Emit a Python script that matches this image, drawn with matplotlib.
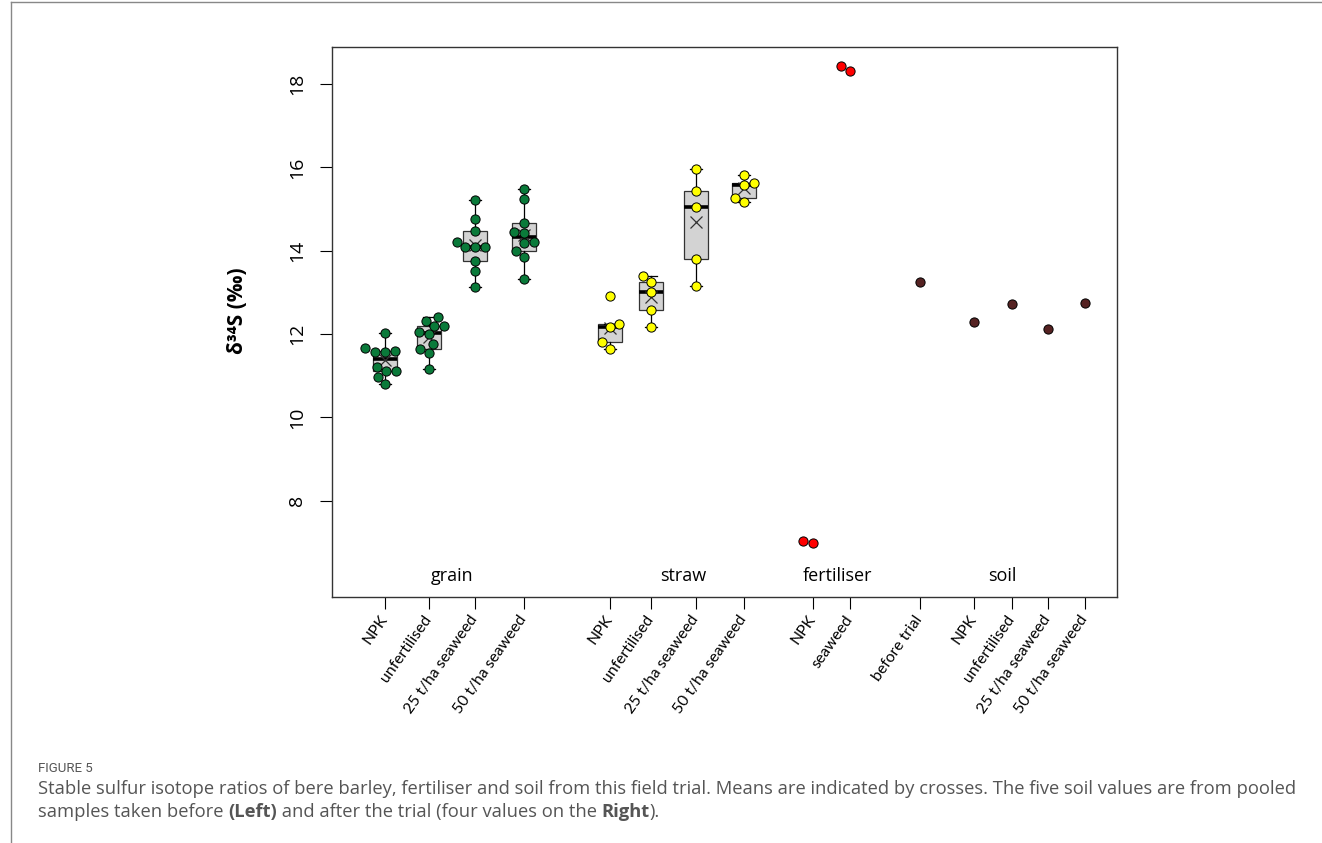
import numpy as np
import matplotlib.pyplot as plt
from matplotlib.lines import Line2D

plt.rcParams['font.family'] = ['Open Sans', 'DejaVu Sans']

# delta34S values (per mil)
grain_npk = [12.02, 11.66, 11.60, 11.58, 11.58, 11.22, 11.12, 11.12, 10.98, 10.81]
grain_unfert = [12.42, 12.32, 12.20, 12.20, 12.06, 12.00, 11.76, 11.64, 11.54, 11.16]
grain_25 = [15.22, 14.76, 14.48, 14.22, 14.08, 14.08, 14.08, 13.76, 13.52, 13.14]
grain_50 = [15.48, 15.24, 14.67, 14.46, 14.42, 14.22, 14.18, 14.00, 13.84, 13.32]
straw_npk = [12.92, 12.24, 12.18, 11.80, 11.64]
straw_unfert = [13.40, 13.26, 13.02, 12.58, 12.18]
straw_25 = [15.95, 15.44, 15.06, 13.80, 13.16]
straw_50 = [15.82, 15.62, 15.58, 15.27, 15.18]
fert_npk = [7.04, 6.98]
fert_seaweed = [18.43, 18.32]
soil_before = [13.24]
soil_npk = [12.29]
soil_unfert = [12.73]
soil_25 = [12.13]
soil_50 = [12.75]

tick_labels = ['NPK', 'unfertilised', '25 t/ha seaweed', '50 t/ha seaweed',
               'NPK', 'unfertilised', '25 t/ha seaweed', '50 t/ha seaweed',
               'NPK', 'seaweed', 'before trial',
               'NPK', 'unfertilised', '25 t/ha seaweed', '50 t/ha seaweed']
group_names = ['grain', 'straw', 'fertiliser', 'soil']

groups = [grain_npk, grain_unfert, grain_25, grain_50,
          straw_npk, straw_unfert, straw_25, straw_50,
          fert_npk, fert_seaweed, soil_before,
          soil_npk, soil_unfert, soil_25, soil_50]
colors = ['#0a7a3a'] * 4 + ['#ffff00'] * 4 + ['#ff0000'] * 2 + ['#552222'] * 5
has_box = [True] * 8 + [False] * 7

# layout (x in pixel-like units)
xpos = [53, 97, 143, 192, 278, 319, 364, 412, 481, 518, 588, 642, 680, 716, 753]
label_x = [120, 351, 506, 670]
label_y = 6.2
xlim = (0, 785)
ylim = (5.70, 18.88)

fig = plt.figure(figsize=(13.22, 8.43), dpi=100)
ax_rect = [0.2509, 0.2922, 0.594, 0.6517]
ax = fig.add_axes(ax_rect)
ax.set_xlim(*xlim)
ax.set_ylim(*ylim)

# px per data unit on y (x units are already px)
ypx = ax_rect[3] * 843 / (ylim[1] - ylim[0])


def swarm(vals, d=10.0):
    # simple beeswarm: lowest value first, smallest |offset| without overlap,
    # ties between left and right alternate starting on the left
    v = np.asarray(vals) * ypx
    xs = np.zeros(len(v))
    placed = []
    side = -1
    for i in np.argsort(v, kind='stable'):
        cands = [0.0]
        for px, py in placed:
            dy = abs(v[i] - py)
            if dy < d:
                off = np.sqrt(d * d - dy * dy)
                cands += [px - off, px + off]
        cands.sort(key=lambda c: (round(abs(c), 6), -c * side))
        for c in cands:
            if all((c - px) ** 2 + (v[i] - py) ** 2 >= d * d - 1e-6 for px, py in placed):
                xs[i] = c
                break
        if xs[i] != 0:
            side = -side
        placed.append((xs[i], v[i]))
    return xs


def hinge_stats(vals):
    # R boxplot style (Tukey hinges)
    v = np.sort(vals)
    n = len(v)
    n4 = np.floor((n + 3) / 2) / 2
    idx = np.array([1, n4, (n + 1) / 2, n + 1 - n4, n]) - 1
    q = 0.5 * (v[np.floor(idx).astype(int)] + v[np.ceil(idx).astype(int)])
    iqr = q[3] - q[1]
    return dict(med=q[2], q1=q[1], q3=q[3],
                whislo=v[v >= q[1] - 1.5 * iqr].min(),
                whishi=v[v <= q[3] + 1.5 * iqr].max(),
                fliers=[])


box_idx = [i for i in range(len(groups)) if has_box[i]]
stats = [hinge_stats(groups[i]) for i in box_idx]
ax.bxp(stats, positions=[xpos[i] for i in box_idx], widths=24,
       patch_artist=True, showfliers=False, capwidths=12,
       boxprops=dict(facecolor='#d3d3d3', edgecolor='#333333', linewidth=0.9),
       medianprops=dict(color='black', linewidth=2.6),
       whiskerprops=dict(color='black', linewidth=0.9),
       capprops=dict(color='black', linewidth=0.9), zorder=2)

for i in box_idx:
    ax.plot(xpos[i], np.mean(groups[i]), marker='x', color='#333333',
            markersize=8, markeredgewidth=0.9, zorder=3)

for i, vals in enumerate(groups):
    xs = xpos[i] + swarm(vals)
    ax.scatter(xs, vals, s=44, color=colors[i], edgecolor='black',
               linewidth=0.7, zorder=4)

for name, lx in zip(group_names, label_x):
    ax.text(lx, label_y, name, ha='center', va='center', fontsize=13)

ax.set_yticks([8, 10, 12, 14, 16, 18])
ax.tick_params(axis='y', labelrotation=90, labelsize=14, length=8.5, pad=10)
for t in ax.get_yticklabels():
    t.set_va('center')
ax.set_xticks(xpos)
ax.set_xticklabels(tick_labels, rotation=55, ha='right', va='center',
                   rotation_mode='anchor', fontsize=11.3, family=['Lato', 'DejaVu Sans'])
ax.tick_params(axis='x', length=8.5, pad=6)
for s in ax.spines.values():
    s.set_color('#333333')
    s.set_linewidth(1.0)

ax.set_ylabel('δ³⁴S (‰)', fontsize=15, fontweight='bold')
ax.yaxis.set_label_coords((248 - 331.7) / 785, 0.52)

# outer frame of the figure panel
fig.add_artist(Line2D([11 / 1322, 11 / 1322], [0, 1 - 2 / 843],
                      transform=fig.transFigure, color='#888888', linewidth=1))
fig.add_artist(Line2D([11 / 1322, 1], [1 - 2 / 843, 1 - 2 / 843],
                      transform=fig.transFigure, color='#888888', linewidth=1))

# caption
cap_color = '#555555'
fig.text(38 / 1322, 1 - 768 / 843, 'FIGURE 5', fontsize=9.5, color=cap_color,
         va='center', family='Roboto')

renderer = fig.canvas.get_renderer()


def rich_line(x, y, parts):
    for s, w in parts:
        t = fig.text(x, y, s, fontsize=13.2, color=cap_color, fontweight=w,
                     va='center', family='Open Sans')
        bb = t.get_window_extent(renderer=renderer)
        x = bb.x1 / fig.bbox.width


rich_line(38 / 1322, 1 - 789 / 843,
          [('Stable sulfur isotope ratios of bere barley, fertiliser and soil from this '
            'field trial. Means are indicated by crosses. The five soil values are from pooled',
            'normal')])
rich_line(38 / 1322, 1 - 812 / 843,
          [('samples taken before ', 'normal'), ('(Left)', 'bold'),
           (' and after the trial (four values on the ', 'normal'), ('Right', 'bold'),
           (').', 'normal')])

fig.savefig('out.png', dpi=100)
